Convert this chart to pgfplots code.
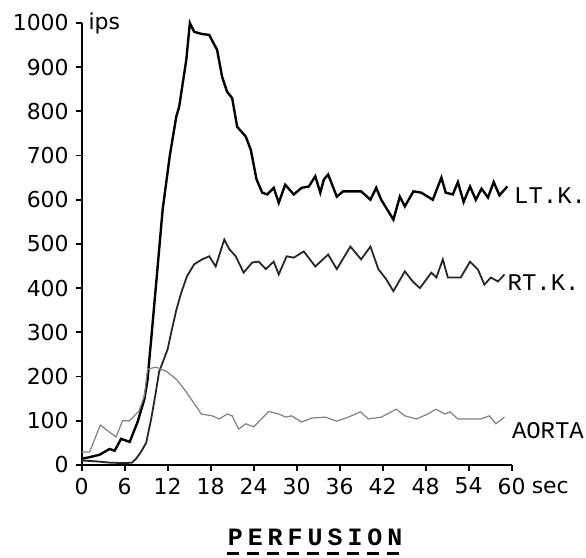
\documentclass[border=0pt]{standalone}
\usepackage{fontspec}
\usepackage{pgfplots}
\pgfplotsset{compat=1.18}
\newfontfamily\tickfont{DejaVu Sans}
\newfontfamily\labfont{Liberation Mono}
\newfontfamily\perffont[LetterSpace=20]{Liberation Mono}

\begin{document}
\begin{tikzpicture}
\begin{axis}[
    width=215.5pt, height=221.5pt, scale only axis,
    xmin=0, xmax=60, ymin=0, ymax=1000,
    axis lines=left,
    axis line style={-, line width=1pt},
    xtick={0,6,...,60},
    ytick={0,100,...,1000},
    tick align=outside,
    major tick length=3pt,
    tick style={line width=0.9pt, black},
    tick label style={font=\tickfont\fontsize{11}{11}\selectfont},
    /pgf/number format/assume math mode=true,
    /pgf/number format/1000 sep={},
    clip=false,
]

% LT.K.
\addplot[black, line width=1.2pt] coordinates {
    (0,14) (1,17) (2.5,23) (3.9,36) (4.6,32) (5.5,59) (6.7,52) (7.8,97)
    (8.75,149) (9.2,194) (9.5,250) (9.7,284) (10.5,430) (11.3,578)
    (12.3,700) (13.2,788) (13.6,810) (14.6,917) (15.1,1000) (15.7,980)
    (16.8,975) (17.8,973) (18.9,939) (19.6,878) (20.3,844) (21,830)
    (21.7,765) (22.9,743) (23.6,713) (24.4,646) (25.2,616) (25.9,612)
    (26.8,627) (27.5,593) (28.4,634) (29.6,612) (30.7,627) (31.7,630)
    (32.6,653) (33.3,616) (33.8,646) (34.4,657) (35.6,607) (36.5,619)
    (39,619) (40.3,600) (41.1,627) (41.8,600) (43.5,555) (44.4,607)
    (45.1,585) (46.3,619) (47.4,616) (49,600) (50.2,650) (50.8,616)
    (51.8,612) (52.5,640) (53.3,595) (54.2,630) (55,600) (55.8,625)
    (56.7,605) (57.5,640) (58.3,610) (59.4,630)
};

% RT.K.
\addplot[black!85, line width=0.9pt] coordinates {
    (0,10) (2,8) (4,5) (6,4) (7,5) (7.6,14) (8.3,30) (9,50) (9.7,104)
    (10.3,160) (10.8,210) (12,262) (12.5,300) (13.2,350) (13.9,390)
    (14.7,427) (15.7,454) (16.8,465) (17.8,472) (18.7,449) (19.9,510)
    (20.6,488) (21.5,472) (22.6,435) (23.8,458) (24.7,460) (25.7,443)
    (26.8,460) (27.5,431) (28.6,472) (29.6,469) (31,483) (32.6,449)
    (34.4,476) (35.6,443) (37.5,494) (39,465) (40.3,494) (41.4,443)
    (42.5,420) (43.5,393) (45.1,438) (46.2,415) (47.2,400) (48.8,435)
    (49.5,424) (50.4,465) (51.1,424) (52.9,424) (54.2,460) (55.3,442)
    (56.2,408) (57.1,424) (58.1,415) (59,431)
};

% AORTA
\addplot[black!50, line width=0.6pt] coordinates {
    (0,29) (1.1,29) (2.6,90) (3.9,74) (4.8,63) (5.7,100) (6.7,100)
    (8,122) (8.75,156) (9.2,217) (10.4,221) (11.8,212) (13.2,194)
    (14.6,165) (16.7,115) (18.2,111) (19.2,104) (20.3,115) (21,111)
    (21.9,81) (22.9,93) (24,86) (26.1,121) (27.5,115) (28.5,108)
    (29.3,111) (30.7,97) (32.1,106) (34,108) (35.6,99) (37.2,108)
    (38.9,120) (40,104) (41.8,108) (43.9,126) (45.1,111) (46.7,104)
    (48.3,115) (49.4,126) (50.7,115) (51.4,120) (52.5,104) (55.7,104)
    (56.9,111) (57.8,93) (59,108)
};

\node[anchor=west, inner sep=0, font=\tickfont\fontsize{11}{11}\selectfont]
    at (rel axis cs:0.015,1.0) {ips};
\node[anchor=base west, inner sep=0, font=\tickfont\fontsize{11}{11}\selectfont]
    at (rel axis cs:1.046,-0.065) {sec};
\node[anchor=west, inner sep=0, font=\labfont\fontsize{12}{12}\selectfont]
    at (rel axis cs:1.005,0.61) {LT.K.};
\node[anchor=west, inner sep=0, font=\labfont\fontsize{12}{12}\selectfont]
    at (rel axis cs:0.99,0.413) {RT.K.};
\node[anchor=west, inner sep=0, font=\labfont\fontsize{12}{12}\selectfont]
    at (rel axis cs:1.0,0.077) {AORTA};
\node[name=perf, inner sep=0, font=\perffont\bfseries\fontsize{12.5}{12.5}\selectfont]
    at (rel axis cs:0.543,-0.163) {PERFUSION};

\path (rel axis cs:-0.19,-0.21) rectangle (rel axis cs:1.169,1.052);
\end{axis}
\draw[line width=1.3pt, dash pattern=on 6pt off 4pt]
    ([yshift=-4pt]perf.south west) -- ([yshift=-4pt]perf.south east);
\end{tikzpicture}
\end{document}
